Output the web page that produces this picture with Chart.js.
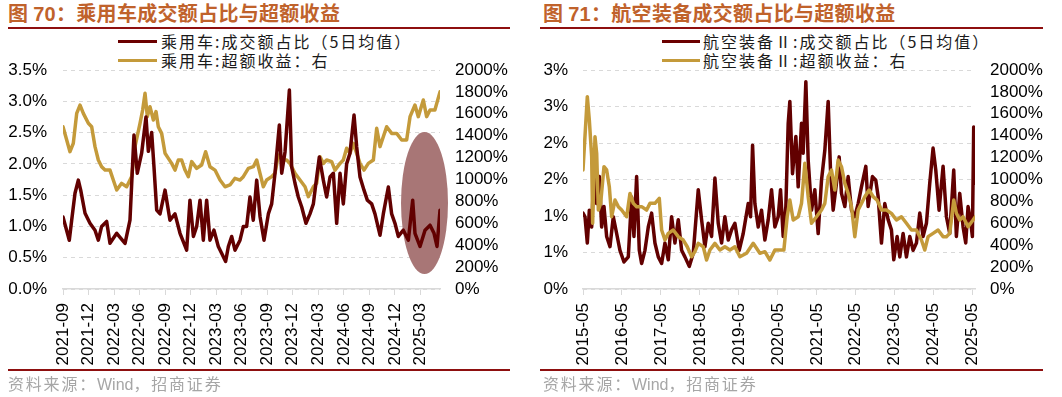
<!DOCTYPE html>
<html><head><meta charset="utf-8">
<script src="https://cdn.jsdelivr.net/npm/chart.js@4.4.1/dist/chart.umd.min.js"></script>
<style>
html,body{margin:0;padding:0;background:#fff;}
#wrap{position:relative;width:1062px;height:397px;overflow:hidden;}
.title{position:absolute;top:3px;font-family:"Noto Sans CJK SC",sans-serif;font-weight:bold;font-size:20px;line-height:20px;color:#C0622B;letter-spacing:0.3px;white-space:nowrap;}
.title .num{font-family:"Liberation Sans",Arial,sans-serif;}
.rule{position:absolute;background:#8E0F0F;}
.leg{position:absolute;font-family:"Noto Sans CJK SC",sans-serif;font-size:16px;line-height:19px;color:#1a1a1a;letter-spacing:2px;white-space:nowrap;}
.sw{position:absolute;height:3px;}
.src{position:absolute;top:374px;font-family:"Noto Sans CJK SC",sans-serif;font-size:16px;line-height:18px;color:#A6A6A6;letter-spacing:1.8px;white-space:nowrap;}
.src .lat{font-family:"Liberation Sans",Arial,sans-serif;letter-spacing:0;}
canvas{position:absolute;top:60px;}
</style>
</head>
<body>
<div id="wrap">
  <div class="title" style="left:8px;">图 <span class="num">70</span>：乘用车成交额占比与超额收益</div>
  <div class="rule" style="left:8px;top:27px;width:502px;height:2px;"></div>
  <div class="sw" style="left:118px;top:40px;width:39px;background:#6B0000;"></div>
  <div class="leg" style="left:161px;top:32px;">乘用车:成交额占比（5日均值）</div>
  <div class="sw" style="left:118px;top:59px;width:39px;background:#C49A3A;"></div>
  <div class="leg" style="left:161px;top:51px;">乘用车:超额收益：右</div>
  <canvas id="c1" width="531" height="310" style="left:0px;width:531px;height:310px;"></canvas>
  <div class="rule" style="left:8px;top:369px;width:502px;height:2px;"></div>
  <div class="src" style="left:8px;">资料来源：<span class="lat">Wind</span>，招商证券</div>

  <div class="title" style="left:543px;">图 <span class="num">71</span>：航空装备成交额占比与超额收益</div>
  <div class="rule" style="left:540px;top:27px;width:503px;height:2px;"></div>
  <div class="sw" style="left:662px;top:40px;width:38px;background:#6B0000;"></div>
  <div class="leg" style="left:703px;top:32px;">航空装备Ⅱ:成交额占比（5日均值）</div>
  <div class="sw" style="left:662px;top:59px;width:38px;background:#C49A3A;"></div>
  <div class="leg" style="left:703px;top:51px;">航空装备Ⅱ:超额收益：右</div>
  <canvas id="c2" width="531" height="310" style="left:531px;width:531px;height:310px;"></canvas>
  <div class="rule" style="left:540px;top:369px;width:503px;height:2px;"></div>
  <div class="src" style="left:543px;">资料来源：<span class="lat">Wind</span>，招商证券</div>
</div>
<script>
// ===== Chart 70: 乘用车 (x = months since 2021-09) =====
const carTickLabels = ['2021-09','2021-12','2022-03','2022-06','2022-09','2022-12','2023-03','2023-06','2023-09','2023-12','2024-03','2024-06','2024-09','2024-12','2025-03'];
const carLeftLabels = ['0.0%','0.5%','1.0%','1.5%','2.0%','2.5%','3.0%','3.5%'];
const carRightLabels = ['0%','200%','400%','600%','800%','1000%','1200%','1400%','1600%','1800%','2000%'];
const carShareX = [0,0.74,1.02,1.41,1.80,2.08,2.59,3.17,3.76,4.15,4.54,5.13,5.52,6.31,7.29,7.87,8.34,8.73,9.24,9.75,10.03,10.42,10.69,11.01,11.40,11.99,12.57,13.16,13.75,14.53,14.92,15.32,15.71,16.10,16.49,16.88,17.27,17.74,18.25,18.64,19.11,19.43,19.82,20.21,20.80,21.19,21.58,21.97,22.36,22.76,23.15,23.62,24.13,24.52,24.91,25.42,25.70,26.09,26.60,26.87,27.26,27.65,28.05,28.55,29.02,29.42,29.81,30.12,30.59,30.98,31.38,31.77,32.16,32.55,32.94,33.33,33.72,34.20,34.51,34.90,35.37,35.76,36.27,36.66,37.25,37.64,38.23,38.62,39.01,39.40,39.99,40.58,41.09,41.36,41.95,42.54,43.13,43.60,43.95,44.30];
const carShareY = [1.15,0.78,1.10,1.53,1.74,1.58,1.21,1.05,0.94,0.78,1.00,1.08,0.73,0.89,0.73,1.10,2.46,1.85,2.17,2.75,2.20,2.50,1.95,1.26,1.20,1.58,1.10,1.20,0.89,0.62,1.42,0.84,1.00,1.42,0.78,1.42,0.78,0.94,0.68,0.57,0.44,0.68,0.84,0.62,0.78,1.00,1.00,1.47,1.10,1.74,1.16,0.78,1.20,1.36,1.85,2.62,1.85,2.19,3.18,1.95,1.69,1.47,1.31,1.05,1.20,1.36,1.79,2.11,1.74,1.47,1.79,1.85,1.05,1.85,1.36,2.00,2.17,2.78,2.27,1.79,1.58,1.42,1.36,1.20,0.86,1.20,1.63,1.20,1.05,0.84,0.94,0.78,1.42,0.89,0.68,0.94,1.02,0.89,0.68,1.26];
const carExcessX = [0,0.82,1.21,1.61,2.00,2.39,2.98,3.37,3.76,4.15,4.54,4.94,5.52,5.91,6.31,6.89,7.48,8.07,8.46,9.05,9.36,9.64,9.91,10.22,10.62,10.93,11.20,11.59,11.99,12.38,12.77,13.16,13.55,13.94,14.34,14.73,15.12,15.71,16.29,16.76,17.27,17.86,18.45,19.04,19.62,20.21,20.80,21.19,21.78,22.37,22.76,23.15,23.54,23.93,24.52,24.91,25.30,25.81,26.28,26.67,27.26,27.85,28.44,28.83,29.42,29.81,30.20,30.59,30.98,31.57,31.96,32.55,32.94,33.33,33.72,34.12,34.51,34.90,35.37,35.88,36.47,36.86,37.25,37.64,38.03,38.62,39.21,39.80,40.38,40.78,41.36,41.75,42.34,42.73,43.13,43.70,44.30];
const carExcessY = [1482,1254,1330,1604,1680,1604,1513,1482,1300,1178,1117,1086,1086,995,904,965,934,1026,1300,1513,1635,1787,1574,1665,1543,1620,1482,1421,1239,1193,1147,1086,1178,1178,1086,1026,1163,1102,1132,1254,1117,1086,995,934,950,1011,995,1026,1102,1117,1178,1056,934,995,1026,1056,1224,1178,1178,1147,1056,995,934,843,934,965,1208,1147,1178,1163,1086,1147,1178,1285,1239,1330,1239,1147,1086,1147,1178,1467,1300,1391,1482,1421,1421,1361,1361,1574,1680,1574,1726,1574,1635,1635,1800];
const carHighlight = {x:42.48, y:1.374, rx:2.76, ry:1.135};

// ===== Chart 71: 航空装备Ⅱ (x = months since 2015-05) =====
const avTickLabels = ['2015-05','2016-05','2017-05','2018-05','2019-05','2020-05','2021-05','2022-05','2023-05','2024-05','2025-05'];
const avLeftLabels = ['0%','1%','1%','2%','2%','3%','3%'];
const avRightLabels = ['0%','200%','400%','600%','800%','1000%','1200%','1400%','1600%','1800%','2000%'];
const avShareX = [0,0.62,1.33,1.95,2.67,3.38,4.21,5.03,5.74,6.46,7.28,8.31,9.33,10.36,11.38,12.62,13.95,14.97,15.69,16.51,17.33,18.05,19.08,20.10,21.13,22.15,23.18,24.21,25.23,26.26,27.28,28.31,29.33,30.36,31.38,32.72,33.95,35.49,36.51,37.54,38.56,39.59,40.62,41.64,42.67,43.69,44.72,45.74,46.77,48.10,49.33,50.87,51.59,52.21,52.92,53.95,54.97,56.00,57.03,58.05,59.08,60.10,60.82,61.64,62.46,63.18,63.69,64.51,65.54,66.26,67.28,67.79,68.62,69.33,70.36,71.38,72.41,73.44,74.46,75.49,76.21,77.03,78.05,78.87,79.59,80.62,81.64,82.67,83.69,84.72,85.74,87.08,87.79,89.13,90.15,90.87,91.90,92.92,93.95,94.97,95.69,96.72,97.54,98.56,99.59,100.62,101.64,102.67,103.69,104.72,105.74,106.77,107.79,108.62,109.64,110.87,111.90,112.92,114.15,114.97,116.00,117.03,117.85,118.56,119.28,119.90,120.30,120.80];
const avShareY = [1.04,0.99,0.63,1.08,0.85,1.63,1.17,1.54,0.85,1.13,0.72,0.58,0.99,0.76,0.53,0.37,0.44,1.26,0.72,1.54,0.53,0.35,0.53,0.85,1.04,0.63,0.44,0.35,0.63,0.40,0.99,0.63,0.95,0.53,0.44,0.31,0.49,1.36,0.95,0.58,0.90,0.72,1.52,0.90,0.63,0.99,0.67,0.81,0.90,0.53,0.76,1.17,0.99,1.97,1.17,0.85,1.08,0.67,0.95,1.36,0.85,0.99,1.36,0.72,1.13,2.27,2.57,1.58,2.09,1.40,2.27,1.86,2.84,1.77,1.08,1.36,0.76,1.49,1.90,2.57,1.63,1.08,1.45,1.81,1.31,1.13,1.54,1.08,0.99,1.17,1.40,1.68,1.13,1.54,1.49,1.27,0.63,1.17,0.95,0.81,0.40,0.72,0.44,0.76,0.44,0.72,0.53,0.63,1.04,0.72,0.90,1.45,1.93,1.63,1.08,1.68,0.99,0.76,1.63,0.72,1.31,0.85,0.63,1.13,0.95,0.72,2.22,1.45];
const avExcessX = [0,1.33,1.95,2.67,2.97,3.69,4.21,4.72,5.44,6.46,7.28,8.10,8.82,9.85,10.87,11.90,13.44,14.46,15.49,16.51,18.05,19.59,20.62,22.15,23.49,24.21,25.23,26.26,27.79,29.33,30.87,32.10,33.44,34.46,35.49,37.03,38.05,39.08,40.62,42.15,43.69,45.23,46.77,48.31,50.36,52.41,54.46,56.00,57.54,59.08,60.62,61.85,62.87,63.69,64.72,66.26,67.28,68.31,69.33,70.36,71.90,73.44,74.46,75.49,76.51,77.54,78.56,79.59,80.62,81.64,82.67,83.69,84.72,85.74,86.77,88.10,89.33,90.56,91.90,93.44,94.97,96.51,98.05,99.59,101.13,102.67,104.21,105.23,106.26,107.79,109.33,110.87,111.90,112.92,114.15,114.97,116.00,117.03,118.56,120.10,120.80];
const avExcessY = [1087,1756,1543,1208,600,1391,1239,721,782,1117,1087,934,660,812,752,721,660,873,782,752,752,721,782,782,828,539,447,508,539,478,447,386,295,341,417,386,265,356,417,356,386,356,386,295,326,417,326,341,265,356,356,356,660,812,630,660,782,1148,843,600,660,721,782,1026,1087,904,1178,1117,965,873,752,478,721,782,843,904,843,812,721,721,691,630,660,600,539,539,447,356,478,508,539,478,478,508,812,691,630,660,569,630,660];

const DARK = '#620000', GOLD = '#C49A3A';
const TICK_FONT = {family:'"Liberation Sans", Arial, sans-serif', size:17};

function pairs(xs, ys){
  const n = Math.min(xs.length, ys.length), out = [];
  for (let i = 0; i < n; i++) out.push({x: xs[i], y: ys[i]});
  return out;
}

function zeroPad(s){ s.paddingTop = 0; s.paddingBottom = 0; s.paddingLeft = 0; s.paddingRight = 0; }

function build(id, o){
  return new Chart(document.getElementById(id), {
    type: 'line',
    data: {datasets: o.datasets},
    options: {
      responsive: false, animation: false, devicePixelRatio: 1,
      layout: {padding: {top: 10, left: 0, right: 0, bottom: 0}},
      plugins: {legend: {display: false}, tooltip: {enabled: false}},
      elements: {point: {radius: 0}, line: {borderWidth: 3.5, tension: 0, borderJoinStyle: 'round', borderCapStyle: 'round'}},
      scales: {
        x: {
          type: 'linear', min: 0, max: o.xMax,
          afterBuildTicks: s => { s.ticks = o.xLabels.map((l, i) => ({value: i * o.xStep})); },
          afterFit: s => { s.height = 81; zeroPad(s); },
          ticks: {autoSkip: false, minRotation: 90, maxRotation: 90, padding: 8, color: '#000', font: TICK_FONT,
                  callback: (v, i) => o.xLabels[i]},
          grid: {drawOnChartArea: false, drawTicks: true, tickLength: 6, color: '#D9D9D9', lineWidth: 1},
          border: {display: true, color: '#D9D9D9', width: 1.5}
        },
        y: {
          type: 'linear', position: 'left', min: 0, max: o.yMax,
          afterBuildTicks: s => { s.ticks = o.yLabels.map((l, i) => ({value: i * o.yStep})); },
          afterFit: s => { s.width = o.yWidth; zeroPad(s); },
          ticks: {autoSkip: false, padding: o.yPad, color: '#000', font: TICK_FONT, callback: (v, i) => o.yLabels[i]},
          grid: {color: '#D9D9D9', lineWidth: 1, drawTicks: false},
          border: {display: false, dash: [4, 4]}
        },
        y2: {
          type: 'linear', position: 'right', min: 0, max: 2000,
          afterBuildTicks: s => { s.ticks = o.y2Labels.map((l, i) => ({value: i * 200})); },
          afterFit: s => { s.width = o.y2Width; zeroPad(s); },
          ticks: {autoSkip: false, padding: o.y2Pad, color: '#000', font: TICK_FONT, callback: (v, i) => o.y2Labels[i]},
          grid: {display: false, drawTicks: false},
          border: {display: false}
        }
      }
    },
    plugins: o.plugins || []
  });
}

const highlightPlugin = {
  id: 'carHighlight',
  beforeDatasetsDraw(chart){
    const {ctx, scales: {x, y}} = chart;
    const cx = x.getPixelForValue(carHighlight.x), cy = y.getPixelForValue(carHighlight.y);
    const rx = Math.abs(x.getPixelForValue(carHighlight.x + carHighlight.rx) - cx);
    const ry = Math.abs(y.getPixelForValue(carHighlight.y + carHighlight.ry) - cy);
    ctx.save();
    ctx.fillStyle = '#A87676';
    ctx.beginPath();
    ctx.ellipse(cx, cy, rx, ry, 0, 0, Math.PI * 2);
    ctx.fill();
    ctx.restore();
  }
};

build('c1', {
  xMax: 44.3, xStep: 3, xLabels: carTickLabels,
  yMax: 3.5, yStep: 0.5, yLabels: carLeftLabels, yWidth: 63, yPad: 16,
  y2Labels: carRightLabels, y2Width: 91, y2Pad: 15,
  datasets: [
    {label: '乘用车:成交额占比（5日均值）', data: pairs(carShareX, carShareY), yAxisID: 'y', borderColor: DARK, backgroundColor: DARK},
    {label: '乘用车:超额收益：右', data: pairs(carExcessX, carExcessY), yAxisID: 'y2', borderColor: GOLD, backgroundColor: GOLD}
  ],
  plugins: [highlightPlugin]
});

build('c2', {
  xMax: 120.7, xStep: 12, xLabels: avTickLabels,
  yMax: 3, yStep: 0.5, yLabels: avLeftLabels, yWidth: 52, yPad: 15,
  y2Labels: avRightLabels, y2Width: 87, y2Pad: 15,
  datasets: [
    {label: '航空装备Ⅱ:超额收益：右', data: pairs(avExcessX, avExcessY), yAxisID: 'y2', borderColor: GOLD, backgroundColor: GOLD},
    {label: '航空装备Ⅱ:成交额占比（5日均值）', data: pairs(avShareX, avShareY), yAxisID: 'y', borderColor: DARK, backgroundColor: DARK}
  ]
});
</script>
</body></html>
